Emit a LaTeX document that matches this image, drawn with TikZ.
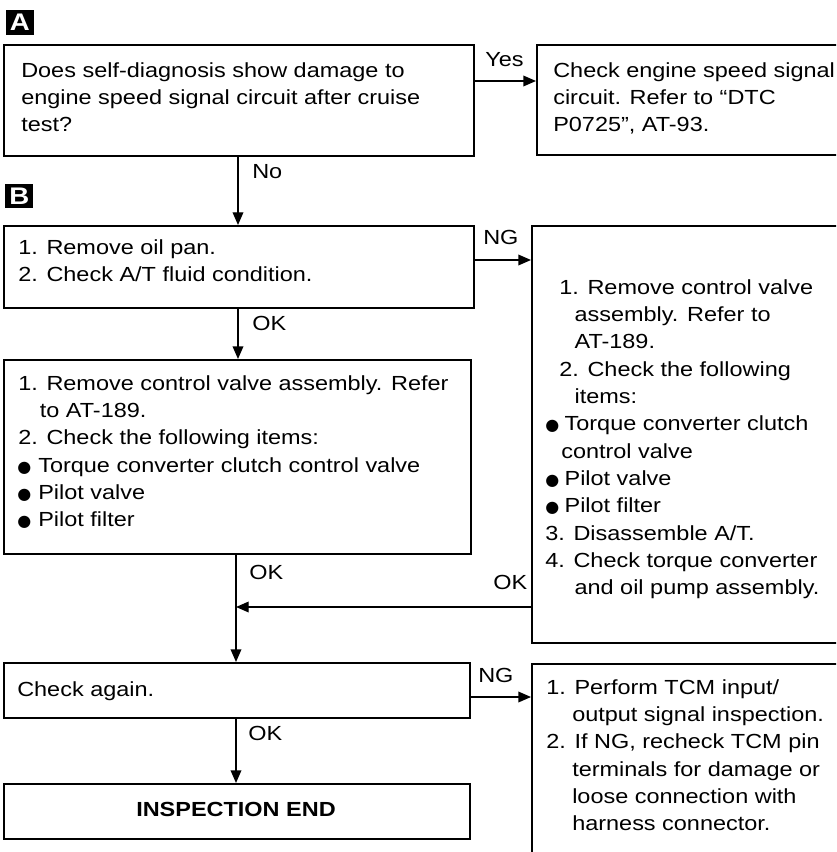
\documentclass[tikz,border=0pt]{standalone}
\usepackage{fontspec}
\setmainfont{Liberation Sans}[FakeStretch=1.15]
\newfontfamily\symfont{DejaVu Sans}
\usetikzlibrary{arrows.meta}
\newcommand\fs{\fontsize{15.3}{20.5}\selectfont}
\newcommand\bul[1]{\makebox[#1][l]{\raisebox{0.2pt}{\fontsize{12}{12}\selectfont\symfont ●}}}
\newcommand\mkbox[5]{\node[bx, minimum width={(#4-#2)*0.75pt}, minimum height={(#5-#3)*0.75pt}] (#1) at (#2,#3) {};}
\newcommand\txt[4]{\node[tx] (#1) at (#2,{#3-19.1}) {\strut#4};}
\begin{document}
\begin{tikzpicture}[x=0.75pt,y=-0.75pt,
  bx/.style={draw, line width=1.2pt, inner sep=0, anchor=north west},
  tx/.style={anchor=north west, inner sep=0, align=left, font=\fs},
  lb/.style={anchor=base west, inner sep=0, font=\fs},
  arr/.style={line width=1pt, -{Triangle[length=9.5pt,width=8pt]}},
  mk/.style={fill=black, text=white, font=\fontsize{18}{18}\selectfont\bfseries, inner sep=0, anchor=north west}]
\useasboundingbox (0,0) rectangle (836,852);
\clip (0,0) rectangle (836,852);
% markers
\node[mk, minimum width=20.5pt, minimum height=18.5pt] (mA) at (6,10) {A};
\node[mk, minimum width=21pt, minimum height=17.5pt] (mB) at (5,184) {B};
% boxes
\mkbox{A1}{3}{44}{473}{155}
\mkbox{A2}{536}{44}{850}{154}
\mkbox{B1}{3}{225}{473}{307}
\mkbox{BR}{531}{225}{850}{642}
\mkbox{B2}{3}{359}{470}{553}
\mkbox{C1}{3}{662}{469}{717}
\mkbox{C2}{531}{663}{850}{880}
\mkbox{D1}{3}{783}{469}{838}
% texts
\txt{tA1}{21}{77}{Does self-diagnosis show damage to\\engine speed signal circuit after cruise\\test?}
\txt{tA2}{553}{77}{Check engine speed signal\\circuit. Refer to ``DTC\\P0725'', AT-93.}
\txt{tB1}{18}{254}{1. Remove oil pan.\\2. Check A/T fluid condition.}
\txt{tB2}{17}{390}{\hspace*{0.75pt}1. Remove control valve assembly. Refer\\\hspace*{17pt}to AT-189.\\\hspace*{0.75pt}2. Check the following items:\\\bul{15.75pt}Torque converter clutch control valve\\\bul{15.75pt}Pilot valve\\\bul{15.75pt}Pilot filter}
\txt{tBR}{545}{294}{\hspace*{10.5pt}1. Remove control valve\\\hspace*{22pt}assembly. Refer to\\\hspace*{22pt}AT-189.\\\hspace*{10.5pt}2. Check the following\\\hspace*{22pt}items:\\\bul{14.5pt}Torque converter clutch\\\hspace*{12pt}control valve\\\bul{14.5pt}Pilot valve\\\bul{14.5pt}Pilot filter\\3. Disassemble A/T.\\4. Check torque converter\\\hspace*{22pt}and oil pump assembly.}
\txt{tC1}{17}{696}{Check again.}
\txt{tC2}{546}{694}{1. Perform TCM input/\\\hspace*{19.5pt}output signal inspection.\\2. If NG, recheck TCM pin\\\hspace*{19.5pt}terminals for damage or\\\hspace*{19.5pt}loose connection with\\\hspace*{19.5pt}harness connector.}
\node[font=\fs\bfseries, anchor=base, inner sep=0] (tD1) at (236,816) {INSPECTION END};
% connector coordinates
\coordinate (xa) at (238,0);
\coordinate (xb) at (236,0);
\coordinate (ya) at (0,81);
\coordinate (yb) at (0,260);
\coordinate (yd) at (0,697);
\coordinate (j) at (236,607);
% connectors
\draw[arr] (A1.east |- ya) -- (A2.west |- ya);
\draw[arr] (A1.south -| xa) -- (B1.north -| xa);
\draw[arr] (B1.east |- yb) -- (BR.west |- yb);
\draw[arr] (B1.south -| xa) -- (B2.north -| xa);
\draw[arr] (B2.south -| xb) -- (C1.north -| xb);
\draw[arr] (BR.west |- j) -- (j);
\draw[arr] (C1.east |- yd) -- (C2.west |- yd);
\draw[arr] (C1.south -| xb) -- (D1.north -| xb);
% labels
\node[lb] (lYes) at (485,67) {Yes};
\node[lb] (lNo) at (252,179) {No};
\node[lb] (lNG1) at (483,244) {NG};
\node[lb] (lOK1) at (252,330) {OK};
\node[lb] (lOK2) at (249,579) {OK};
\node[lb] (lOK3) at (493,589) {OK};
\node[lb] (lNG2) at (478,682) {NG};
\node[lb] (lOK4) at (248,740) {OK};
\end{tikzpicture}
\end{document}
